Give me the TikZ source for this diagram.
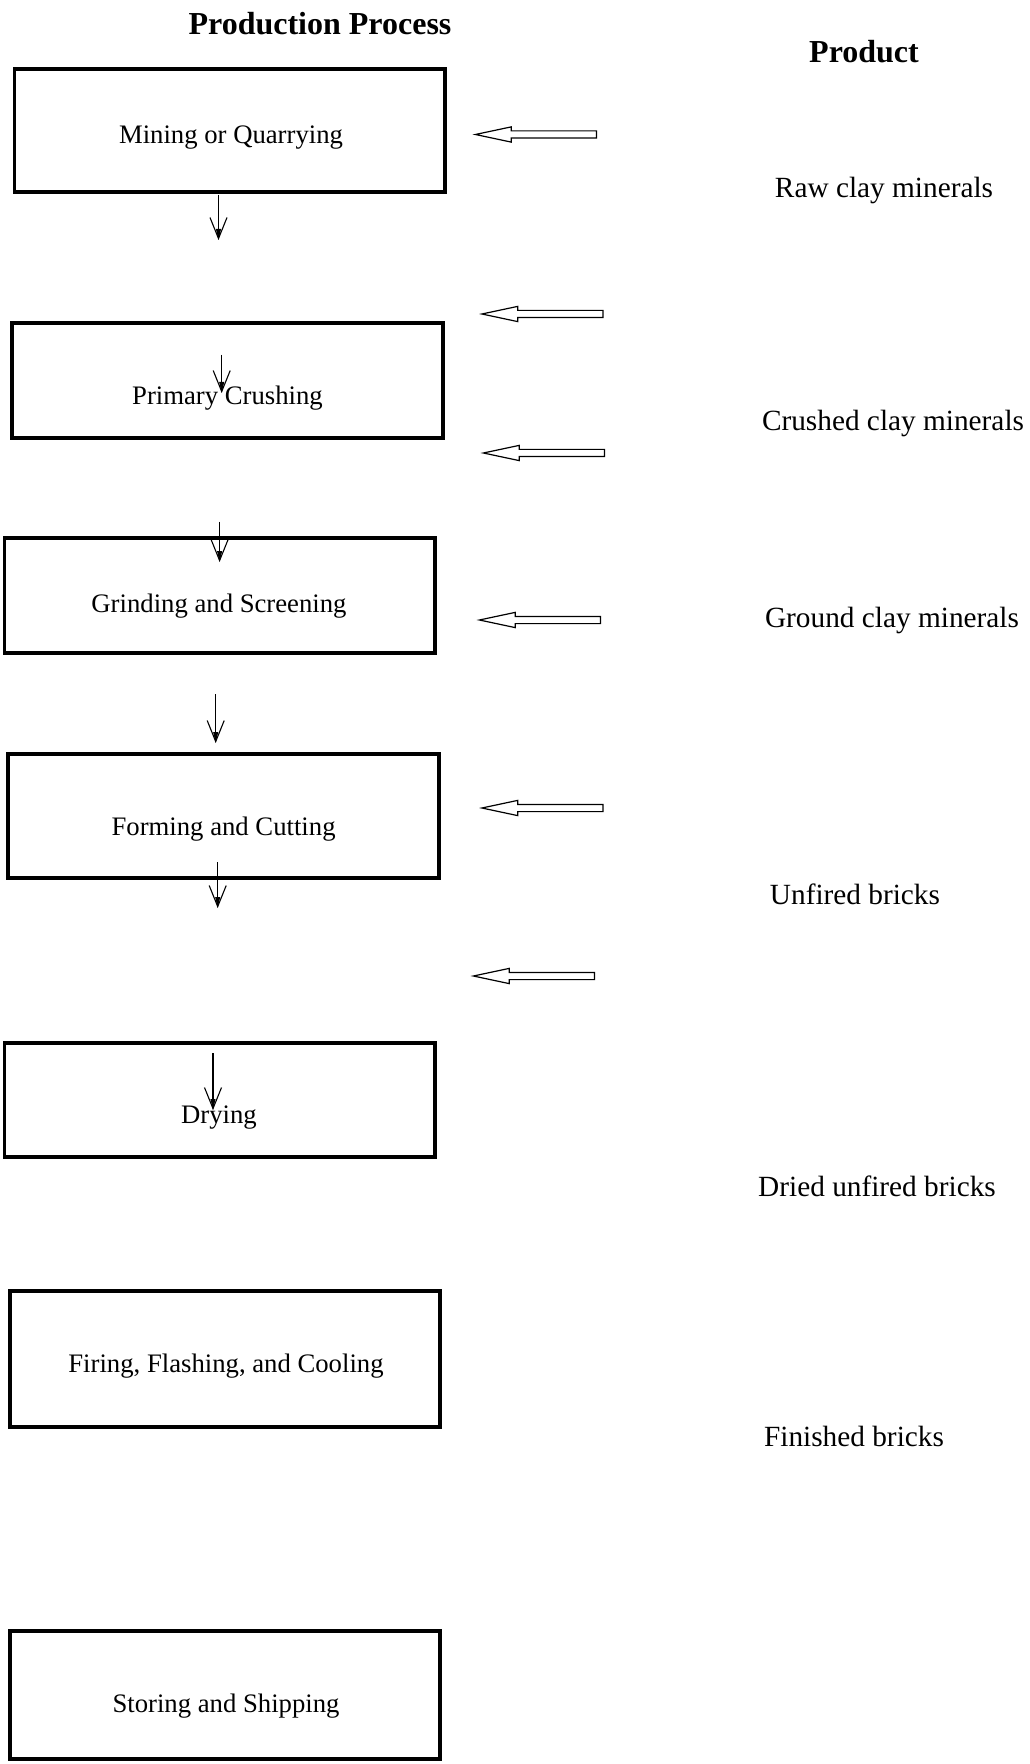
\documentclass[tikz,border=0pt]{standalone}
\usepackage{fontspec}
\setmainfont{Liberation Serif}
\usetikzlibrary{arrows.meta,shapes.arrows}
\tikzset{
  procbox/.style={draw, line width=1.6pt, inner sep=0pt, rectangle},
  boxtext/.style={inner sep=0pt, font=\fontsize{13.35pt}{15pt}\selectfont},
  prodtext/.style={inner sep=0pt, font=\fontsize{14.65pt}{17pt}\selectfont},
  headtext/.style={inner sep=0pt, font=\fontsize{16pt}{19pt}\selectfont\bfseries},
  downarr/.style={line width=0.55pt, -{Straight Barb[length=10.5pt,width=8.5pt]},
    postaction={draw, line width=0.55pt, -{Triangle[length=5.5pt,width=2.4pt]}}},
  hollow/.style={draw, single arrow, line width=0.6pt, inner sep=1.5pt,
    minimum width=0pt, minimum height=60.5pt, single arrow head extend=2pt,
    single arrow tip angle=24, shape border rotate=180, anchor=tail}
}
\begin{document}
\begin{tikzpicture}[x=0.5pt,y=-0.5pt]
\useasboundingbox (0,0) rectangle (1029,1764);
% titles
\node[headtext] (hproc) at (320,24) {Production Process};
\node[headtext] (hprod) at (864,52) {Product};
% boxes
\node[procbox, minimum width=215.25pt, minimum height=61.5pt] (b1) at (229.75,130.5) {};
\node[procbox, minimum width=215.5pt, minimum height=57.5pt] (b2) at (227.5,380.5) {};
\node[procbox, minimum width=215.2pt, minimum height=57.5pt] (b3) at (219.8,595.5) {};
\node[procbox, minimum width=215.5pt, minimum height=62pt] (b4) at (223.5,816) {};
\node[procbox, minimum width=215.2pt, minimum height=57pt] (b5) at (219.8,1100) {};
\node[procbox, minimum width=215pt, minimum height=68pt] (b6) at (225,1359) {};
\node[procbox, minimum width=215pt, minimum height=64pt] (b7) at (225,1695) {};
% box texts
\node[boxtext] (t1) at (231,138) {Mining or Quarrying};
\node[boxtext] (t2) at (227.5,398) {Primary Crushing};
\node[boxtext] (t3) at (219,606) {Grinding and Screening};
\node[boxtext] (t4) at (223.6,829) {Forming and Cutting};
\node[boxtext] (t5) at (219,1118) {Drying};
\node[boxtext] (t6) at (226,1366) {Firing, Flashing, and Cooling};
\node[boxtext] (t7) at (226,1706) {Storing and Shipping};
% products
\node[prodtext] (p1) at (884,191) {Raw clay minerals};
\node[prodtext] (p2) at (893,423) {Crushed clay minerals};
\node[prodtext] (p3) at (892,620) {Ground clay minerals};
\node[prodtext] (p4) at (855,894) {Unfired bricks};
\node[prodtext] (p5) at (877,1186) {Dried unfired bricks};
\node[prodtext] (p6) at (854,1436) {Finished bricks};
% hollow arrows
\node[hollow] (h1) at (597,134.5) {};
\node[hollow] (h2) at (603.5,314) {};
\node[hollow] (h3) at (605,453) {};
\node[hollow] (h4) at (601,620) {};
\node[hollow] (h5) at (603.5,808) {};
\node[hollow] (h6) at (595,976) {};
% down arrows
\coordinate (d1s) at (218.5,195); \coordinate (d1e) at (218.5,240);
\coordinate (d2s) at (221.7,355); \coordinate (d2e) at (221.7,393);
\coordinate (d3s) at (219.6,522); \coordinate (d3e) at (219.6,562);
\coordinate (d4s) at (215.7,694); \coordinate (d4e) at (215.7,743);
\coordinate (d5s) at (217.7,862); \coordinate (d5e) at (217.7,908);
\coordinate (d6s) at (213,1053); \coordinate (d6e) at (213,1110);
\draw[downarr] (d1s) -- (d1e);
\draw[downarr] (d2s) -- (d2e);
\draw[downarr] (d3s) -- (d3e);
\draw[downarr] (d4s) -- (d4e);
\draw[downarr] (d5s) -- (d5e);
\draw[downarr] (d6s) -- (d6e);
\end{tikzpicture}
\end{document}
